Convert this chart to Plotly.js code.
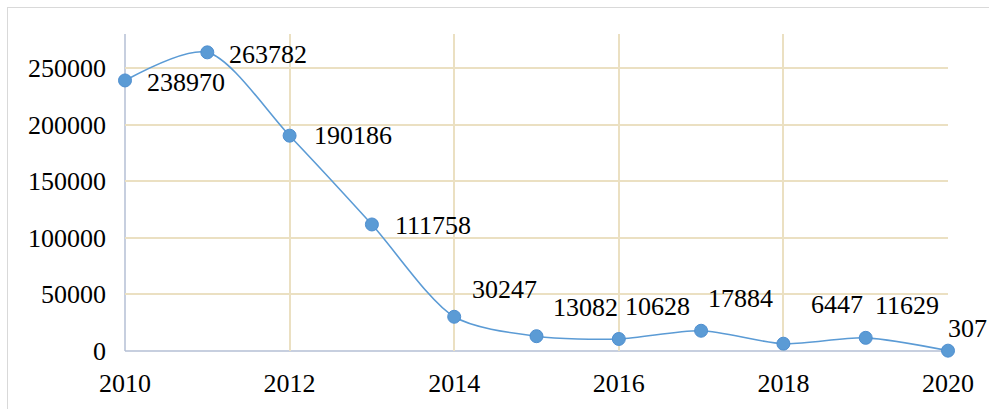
<!DOCTYPE html>
<html>
<head>
<meta charset="utf-8">
<script src="https://cdn.plot.ly/plotly-3.0.1.min.js"></script>
<style>
html,body{margin:0;padding:0;background:#fff;}
#wrap{position:relative;width:989px;height:409px;}
#chart{width:989px;height:409px;}
#frame{position:absolute;left:7px;top:7px;right:0;bottom:0;border-top:1.5px solid #d9d9d9;border-left:1.5px solid #d9d9d9;pointer-events:none;}
</style>
</head>
<body>
<div id="wrap"><div id="chart"></div><div id="frame"></div></div>
<script>
const years = [2010, 2011, 2012, 2013, 2014, 2015, 2016, 2017, 2018, 2019, 2020];
const values = [238970, 263782, 190186, 111758, 30247, 13082, 10628, 17884, 6447, 11629, 307];
const labels = ["238970", "263782", "190186", "111758", "30247", "13082", "10628", "17884", "6447", "11629", "307"];
const yTicks = [0, 50000, 100000, 150000, 200000, 250000];
const xTicks = [2010, 2012, 2014, 2016, 2018, 2020];

// label placement (pixel offsets from each point)
const labelDx = [20, 20, 22, 21, 16, 14, 4, 5, 26, 7, -2];
const labelDy = [-2, -2, 0, -1, 27, 29, 32, 32, 39, 32, 22];

const font = {family: 'Liberation Serif', size: 26, color: '#000'};

const trace = {
  x: years, y: values, type: 'scatter', mode: 'lines+markers',
  line: {color: '#5b9bd5', width: 1.6, shape: 'spline', smoothing: 0.8},
  marker: {color: '#5b9bd5', size: 13, line: {color: '#4f8fd0', width: 1}},
  hoverinfo: 'skip', cliponaxis: false
};

const annotations = years.map((yr, i) => ({
  x: yr, y: values[i], text: labels[i], showarrow: false,
  xanchor: 'left', yanchor: 'middle', xshift: labelDx[i], yshift: labelDy[i],
  font: font
}));

const layout = {
  width: 989, height: 409,
  font: font,
  margin: {l: 125, r: 41, t: 34, b: 58},
  paper_bgcolor: '#fff', plot_bgcolor: '#fff',
  showlegend: false,
  xaxis: {
    range: [2010, 2020], tickvals: xTicks, ticktext: xTicks.map(String),
    showgrid: true, gridcolor: '#ebe0c2', gridwidth: 2,
    zeroline: false, showline: false, ticks: '', ticklabelstandoff: 14,
    tickfont: font, fixedrange: true
  },
  yaxis: {
    range: [0, 280000], tickvals: yTicks, ticktext: yTicks.map(String),
    showgrid: true, gridcolor: '#ebe0c2', gridwidth: 2,
    zeroline: false, showline: false, ticks: '', ticklabelstandoff: 18,
    tickfont: font, fixedrange: true
  },
  shapes: [
    {type: 'line', xref: 'paper', yref: 'paper', x0: 0, x1: 0, y0: 0, y1: 1, line: {color: '#b4bfd4', width: 1.5}, layer: 'below'},
    {type: 'line', xref: 'paper', yref: 'paper', x0: 0, x1: 1, y0: 0, y1: 0, line: {color: '#b4bfd4', width: 1.5}, layer: 'below'}
  ],
  annotations: annotations
};

Plotly.newPlot('chart', [trace], layout, {displayModeBar: false, staticPlot: true});
</script>
</body>
</html>
